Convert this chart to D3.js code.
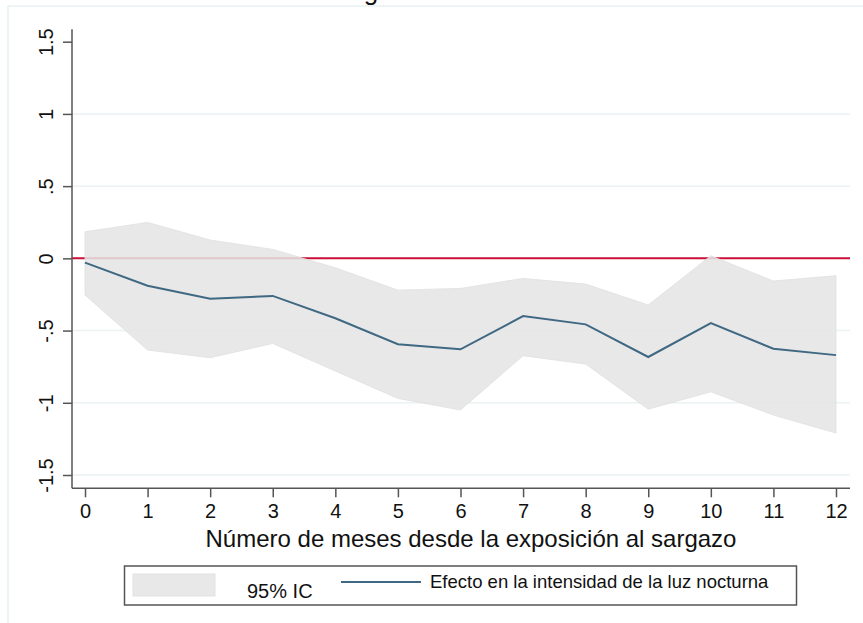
<!DOCTYPE html>
<html>
<head>
<meta charset="utf-8">
<script src="https://cdn.jsdelivr.net/npm/d3@7"></script>
<style>
  body { margin: 0; background: #fff; }
  svg { font-family: "Liberation Sans", Arial, sans-serif; }
</style>
</head>
<body>
<svg id="svg1" width="863" height="623"></svg>
<script>
// months since exposure
var months = [0, 1, 2, 3, 4, 5, 6, 7, 8, 9, 10, 11, 12];
// point estimate
var effect = [-0.03, -0.19, -0.28, -0.26, -0.415, -0.595, -0.63, -0.40, -0.457, -0.683, -0.448, -0.626, -0.67];
// 95% interval
var upper = [0.184, 0.249, 0.127, 0.062, -0.065, -0.22, -0.208, -0.139, -0.178, -0.323, 0.018, -0.157, -0.12];
var lower = [-0.254, -0.635, -0.688, -0.589, -0.78, -0.97, -1.05, -0.674, -0.732, -1.044, -0.924, -1.085, -1.21];
var yTicks = [1.5, 1, 0.5, 0, -0.5, -1, -1.5];
var yTickLabels = ["1.5", "1", ".5", "0", "-.5", "-1", "-1.5"];

var svg = d3.select('svg');

var x = d3.scaleLinear().domain([0, 12]).range([85, 836]);
var y = d3.scaleLinear().domain([-1.5, 1.5]).range([475, 41.7]);

// outer frame of the graph
svg.append('rect')
    .attr('x', 8).attr('y', 6)
    .attr('width', 900).attr('height', 700)
    .attr('fill', 'none')
    .attr('stroke', '#e9f1f2')
    .attr('stroke-width', 1.5);

// cut title (only the descender shows)
svg.append('text')
    .attr('x', 371).attr('y', 0)
    .attr('text-anchor', 'middle')
    .attr('font-size', 26)
    .attr('fill', '#111')
    .text('g');

// gridlines
svg.selectAll('.grid')
    .data(yTicks.filter(function(d){ return d < 1.5; }))
    .enter()
    .append('line')
    .attr('class', 'grid')
    .attr('x1', 72).attr('x2', 850)
    .attr('y1', function(d){ return y(d); })
    .attr('y2', function(d){ return y(d); })
    .attr('stroke', '#eaf2f3')
    .attr('stroke-width', 1.5);

// zero reference line
svg.append('line')
    .attr('x1', 72).attr('x2', 850)
    .attr('y1', y(0)).attr('y2', y(0))
    .attr('stroke', '#cc1038')
    .attr('stroke-width', 2);

var rows = months.map(function(m, i){
    return {m: m, e: effect[i], hi: upper[i], lo: lower[i]};
});

// confidence band
var area = d3.area()
    .x(function(d){ return x(d.m); })
    .y0(function(d){ return y(d.lo); })
    .y1(function(d){ return y(d.hi); });

svg.append('path')
    .datum(rows)
    .attr('d', area)
    .attr('fill', '#e4e4e4')
    .attr('fill-opacity', 0.86)
    .attr('stroke', '#e0e0e0')
    .attr('stroke-opacity', 0.8)
    .attr('stroke-width', 1);

// estimate line
var line = d3.line()
    .x(function(d){ return x(d.m); })
    .y(function(d){ return y(d.e); });

svg.append('path')
    .datum(rows)
    .attr('d', line)
    .attr('fill', 'none')
    .attr('stroke', '#3f6883')
    .attr('stroke-width', 2);

// y axis
var yAxis = d3.axisLeft(y)
    .tickValues(yTicks)
    .tickSize(9)
    .tickPadding(0)
    .tickFormat(function(d, i){ return yTickLabels[i]; });

var gy = svg.append('g')
    .attr('transform', 'translate(72,0)')
    .call(yAxis);
gy.select('.domain')
    .attr('d', 'M0,29.3V488.3')
    .attr('stroke', '#555')
    .attr('stroke-width', 1.5);
gy.selectAll('.tick line').attr('stroke', '#555').attr('stroke-width', 1.5);
gy.selectAll('.tick text')
    .attr('x', 0).attr('y', 0).attr('dy', 0)
    .attr('transform', 'translate(-19,0) rotate(-90)')
    .attr('text-anchor', 'middle')
    .attr('font-size', 20)
    .attr('font-family', '"Liberation Sans", Arial, sans-serif')
    .attr('fill', '#111');

// x axis
var xAxis = d3.axisBottom(x)
    .tickValues(months)
    .tickSize(9)
    .tickPadding(7)
    .tickFormat(d3.format('d'));

var gx = svg.append('g')
    .attr('transform', 'translate(0,488.3)')
    .call(xAxis);
gx.select('.domain')
    .attr('d', 'M72,0H850')
    .attr('stroke', '#555')
    .attr('stroke-width', 1.5);
gx.selectAll('.tick line').attr('stroke', '#555').attr('stroke-width', 1.5);
gx.selectAll('.tick text')
    .attr('font-size', 20)
    .attr('font-family', '"Liberation Sans", Arial, sans-serif')
    .attr('fill', '#111');

svg.append('text')
    .attr('x', 471).attr('y', 547)
    .attr('text-anchor', 'middle')
    .attr('font-size', 24)
    .attr('fill', '#111')
    .text('Número de meses desde la exposición al sargazo');

// legend
var legend = svg.append('g');
legend.append('rect')
    .attr('x', 124.5).attr('y', 566)
    .attr('width', 672).attr('height', 39)
    .attr('fill', '#fff')
    .attr('stroke', '#555')
    .attr('stroke-width', 1.5);
legend.append('rect')
    .attr('x', 133).attr('y', 574)
    .attr('width', 82).attr('height', 22)
    .attr('fill', '#e8e8e8')
    .attr('stroke', '#e2e2e2');
legend.append('text')
    .attr('x', 247).attr('y', 598)
    .attr('font-size', 20)
    .attr('fill', '#111')
    .text('95% IC');
legend.append('line')
    .attr('x1', 341).attr('x2', 421)
    .attr('y1', 582).attr('y2', 582)
    .attr('stroke', '#3f6883')
    .attr('stroke-width', 2);
legend.append('text')
    .attr('x', 430).attr('y', 588)
    .attr('font-size', 18.5)
    .attr('fill', '#111')
    .text('Efecto en la intensidad de la luz nocturna');
</script>
</body>
</html>
